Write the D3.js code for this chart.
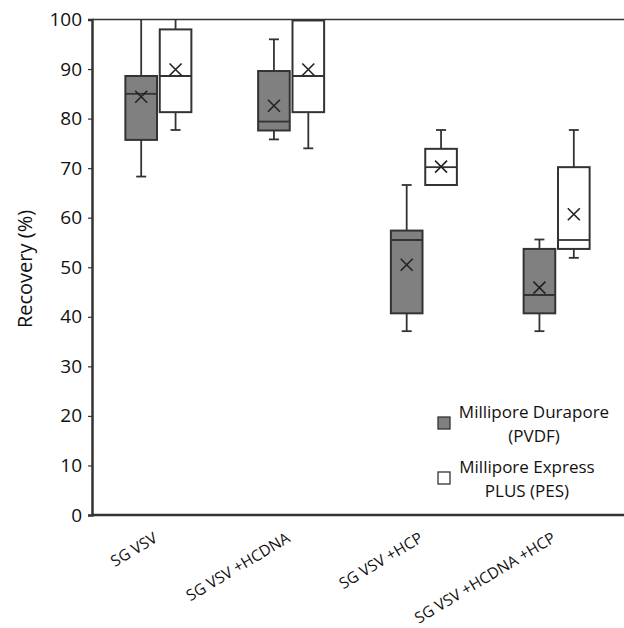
<!DOCTYPE html>
<html>
<head>
    <style type="text/css">
        body { margin: 0; background: #fff; }
        svg, svg text { font-family: "Open Sans", "Noto Sans", sans-serif; }
        .tick text { font-size: 19px; fill: #111; }
        .xlab { font-size: 15.5px; fill: #111; }
        .legend text { font-size: 17px; fill: #111; text-anchor: middle; }
        .box { stroke: #333; stroke-width: 2px; }
        .whisker { stroke: #333; stroke-width: 1.8px; }
        .mean { stroke: #222; stroke-width: 1.6px; }
    </style>
    <script src="https://d3js.org/d3.v7.min.js"></script>
</head>
<body>
    <svg id="chart" width="624" height="628"></svg>
<script type="text/javascript">
// whisker low, q1, median, q3, whisker high, mean
const categories = ['SG VSV', 'SG VSV +HCDNA', 'SG VSV +HCP', 'SG VSV +HCDNA +HCP'];
const series = ['Millipore Durapore (PVDF)', 'Millipore Express PLUS (PES)'];
const pvdf = [
    {min: 68.3, q1: 75.7, med: 85.0, q3: 88.6, max: 100, mean: 84.4},
    {min: 75.8, q1: 77.6, med: 79.4, q3: 89.6, max: 96.0, mean: 82.6},
    {min: 37.1, q1: 40.7, med: 55.5, q3: 57.4, max: 66.6, mean: 50.5},
    {min: 37.1, q1: 40.7, med: 44.4, q3: 53.7, max: 55.6, mean: 45.9}
];
const pes = [
    {min: 77.7, q1: 81.3, med: 88.6, q3: 98.0, max: 100, mean: 89.9},
    {min: 74.0, q1: 81.3, med: 88.6, q3: 99.8, max: 100, mean: 89.9},
    {min: 66.6, q1: 66.6, med: 70.2, q3: 73.9, max: 77.7, mean: 70.3},
    {min: 51.9, q1: 53.7, med: 55.5, q3: 70.2, max: 77.7, mean: 60.7}
];
const yTicks = d3.range(0, 101, 10);
const fills = ['#808080', '#ffffff'];

const svg = d3.select('#chart');
const m = {left: 92, right: 623, top: 19.5, bottom: 515};

const x = d3.scaleBand().domain(categories).range([m.left, m.right]);
const sub = d3.scaleBand().domain(series).range([-33, 33]).paddingInner(0.08);
const y = d3.scaleLinear().domain([0, 100]).range([m.bottom, m.top]);

// top frame line
svg.append('line')
    .attr('x1', m.left).attr('x2', 624)
    .attr('y1', y(100)).attr('y2', y(100))
    .attr('stroke', '#333').attr('stroke-width', 1.5);

// boxes
const groups = [pvdf, pes];
groups.forEach(function(data, s) {
    const g = svg.append('g').selectAll('g')
        .data(data)
        .enter()
        .append('g')
        .attr('transform', (d, i) => 'translate(' + (x(categories[i]) + x.bandwidth() / 2 + sub(series[s])) + ',0)');
    const w = sub.bandwidth();
    const cx = w / 2;

    g.append('line').attr('class', 'whisker')
        .attr('x1', cx).attr('x2', cx)
        .attr('y1', d => y(d.max)).attr('y2', d => y(d.q3));
    g.append('line').attr('class', 'whisker')
        .attr('x1', cx).attr('x2', cx)
        .attr('y1', d => y(d.q1)).attr('y2', d => y(d.min));
    g.filter(d => d.max < 100).append('line').attr('class', 'whisker')
        .attr('x1', cx - 5).attr('x2', cx + 5)
        .attr('y1', d => y(d.max)).attr('y2', d => y(d.max));
    g.filter(d => d.min < d.q1).append('line').attr('class', 'whisker')
        .attr('x1', cx - 5).attr('x2', cx + 5)
        .attr('y1', d => y(d.min)).attr('y2', d => y(d.min));

    g.append('rect').attr('class', 'box')
        .attr('x', 0).attr('width', w)
        .attr('y', d => y(d.q3))
        .attr('height', d => y(d.q1) - y(d.q3))
        .attr('fill', fills[s]);
    g.append('line').attr('class', 'whisker')
        .attr('x1', 0).attr('x2', w)
        .attr('y1', d => y(d.med)).attr('y2', d => y(d.med));
    g.append('path').attr('class', 'mean')
        .attr('d', d => {
            const my = y(d.mean), r = 6;
            return 'M' + (cx - r) + ',' + (my - r) + 'L' + (cx + r) + ',' + (my + r) +
                   'M' + (cx - r) + ',' + (my + r) + 'L' + (cx + r) + ',' + (my - r);
        })
        .attr('fill', 'none');
});

// y axis
const yAxis = svg.append('g')
    .attr('transform', 'translate(' + m.left + ',0)')
    .call(d3.axisLeft(y).tickValues(yTicks).tickSize(4).tickPadding(6));
yAxis.attr('font-family', null).attr('font-size', null);
yAxis.select('.domain').attr('stroke', '#333').attr('stroke-width', 2.5);
yAxis.selectAll('.tick line').attr('stroke', '#333').attr('stroke-width', 1.2);

// x axis
const xAxis = svg.append('g')
    .attr('transform', 'translate(0,' + m.bottom + ')')
    .call(d3.axisBottom(x).tickSize(0).tickFormat(''));
xAxis.select('.domain').attr('d', 'M' + m.left + ',0H624').attr('stroke', '#333').attr('stroke-width', 2.5);

svg.append('g').selectAll('text')
    .data(categories)
    .enter()
    .append('text')
    .attr('class', 'xlab')
    .attr('text-anchor', 'end')
    .attr('transform', d => 'translate(' + (x(d) + x.bandwidth() / 2) + ',' + 541 + ') rotate(-31)')
    .text(d => d);

// y title
svg.append('text')
    .attr('transform', 'translate(32,269) rotate(-90)')
    .attr('text-anchor', 'middle')
    .style('font-size', '20px')
    .attr('fill', '#111')
    .text('Recovery (%)');

// legend
const legendLines = [['Millipore Durapore', '(PVDF)'], ['Millipore Express', 'PLUS (PES)']];
const legend = svg.append('g').attr('class', 'legend')
    .selectAll('g')
    .data(series)
    .enter()
    .append('g')
    .attr('transform', (d, i) => 'translate(438,' + (417 + i * 55) + ')');
legend.append('rect')
    .attr('width', 12).attr('height', 12)
    .attr('fill', (d, i) => fills[i])
    .attr('stroke', '#333').attr('stroke-width', 1.3);
legend.append('text')
    .attr('x', (d, i) => i === 0 ? 96 : 89)
    .attr('y', 1)
    .text((d, i) => legendLines[i][0]);
legend.append('text')
    .attr('x', (d, i) => i === 0 ? 96 : 89)
    .attr('y', 25)
    .text((d, i) => legendLines[i][1]);
</script>
</body>
</html>
